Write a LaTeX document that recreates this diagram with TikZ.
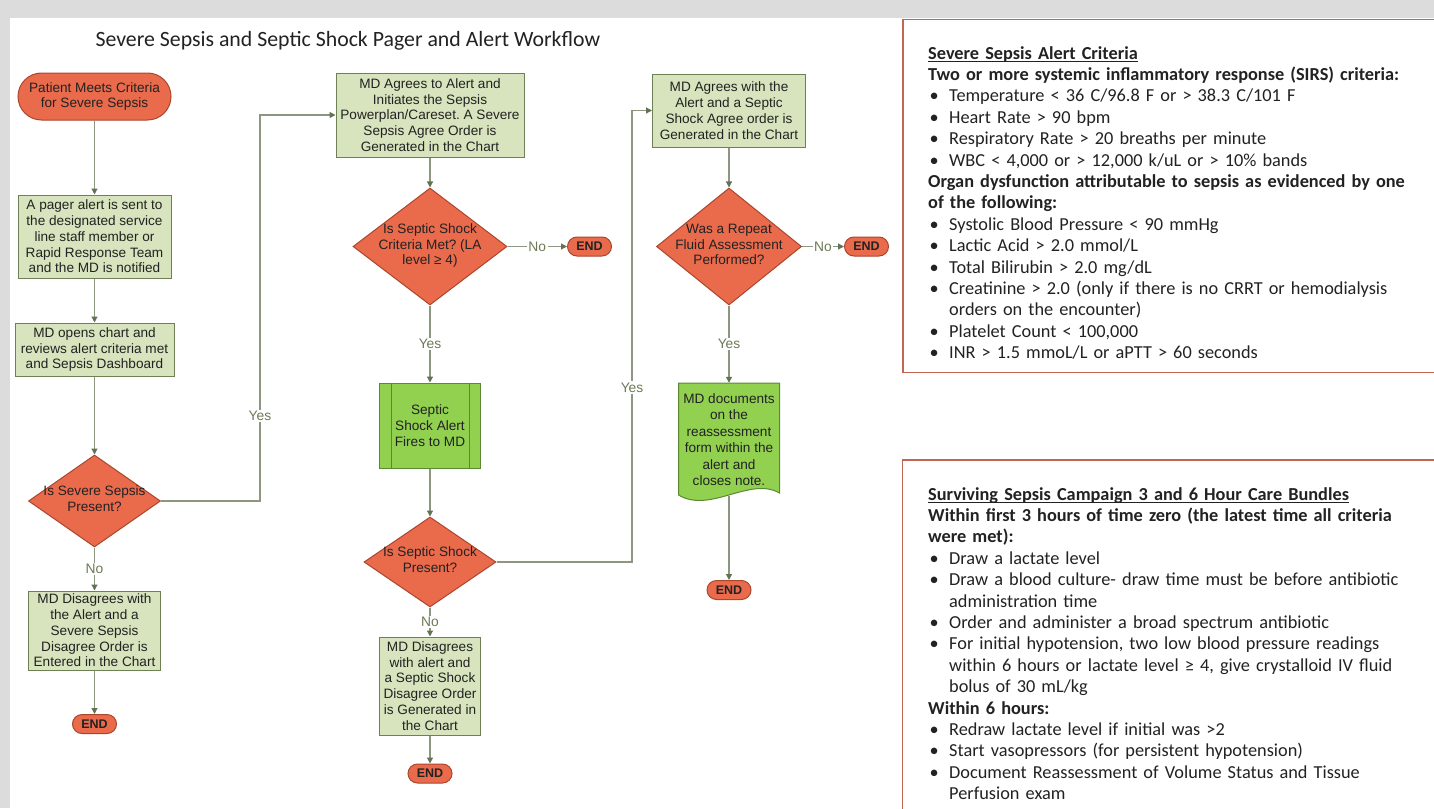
\documentclass[tikz,border=0pt]{standalone}
\usepackage{fontspec}
\setmainfont{Liberation Sans}
\newfontfamily\boxfont{Carlito}
\usetikzlibrary{shapes.geometric,arrows.meta}

\definecolor{bggray}{RGB}{220,220,220}
\definecolor{sepred}{RGB}{234,106,76}
\definecolor{sepredline}{RGB}{170,70,46}
\definecolor{paleolive}{RGB}{215,228,189}
\definecolor{oliveline}{RGB}{112,128,86}
\definecolor{limegreen}{RGB}{146,208,80}
\definecolor{limeline}{RGB}{92,136,52}
\definecolor{flowline}{RGB}{140,150,128}
\definecolor{flowtip}{RGB}{100,114,84}
\definecolor{flowlabel}{RGB}{108,122,84}
\definecolor{panelline}{RGB}{190,104,84}
\definecolor{inktext}{RGB}{34,34,34}

% underline drawn close under the baseline
\newcommand{\ulbar}[1]{\leavevmode\setbox0\hbox{#1}\rlap{\rule[-2.6pt]{\wd0}{1.1pt}}\box0}
% one bullet line with hanging indent
\newcommand{\bitem}[1]{\par\hangindent=21pt\hangafter=1\noindent\hbox to 21pt{\hspace{1.5pt}\textbullet\hfil}#1}
% text of a decision, set without widening the diamond
\newcommand{\dlines}[1]{\smash{\makebox[0pt]{\raisebox{-3pt}{\begin{tabular}{@{}c@{}}#1\end{tabular}}}}}

\begin{document}
\frenchspacing
\begin{tikzpicture}[x=1pt,y=-1pt,
    every node/.style={font=\fontsize{13.6}{15.8}\selectfont, text=inktext},
    terminal/.style={draw=sepredline, fill=sepred, line width=1pt, rounded corners=23.5pt,
        minimum width=153pt, minimum height=47pt, align=center, inner sep=0pt},
    stopper/.style={draw=sepredline, fill=sepred, line width=1pt, rounded corners=9.5pt,
        minimum width=44pt, minimum height=19pt, inner sep=0pt,
        font=\bfseries\fontsize{12.5}{12.5}\selectfont},
    stepbox/.style={draw=oliveline, fill=paleolive, line width=1pt, align=center, inner sep=0pt},
    alertbox/.style={draw=limeline, fill=limegreen, line width=1pt, align=center, inner sep=0pt},
    decision/.style={diamond, draw=sepredline, fill=sepred, line width=1pt, inner sep=0pt},
    flow/.style={draw=flowline, line width=1.2pt, -{Triangle[length=6pt,width=6pt,color=flowtip]}},
    lbl/.style={fill=white, text=flowlabel, inner sep=1.5pt, font=\fontsize{13.8}{13.8}\selectfont},
    panel/.style={draw=panelline, line width=1.5pt},
    paneltext/.style={anchor=north west, inner sep=0pt, text width=560pt,
        font=\boxfont\fontsize{18.3}{21.4}\selectfont}]

    % Page and frame
    \useasboundingbox (0,0) rectangle (1434,808);
    \fill[bggray] (0,0) rectangle (1434,808);
    \fill[white] (10,18) rectangle (1434,808);

    \node[anchor=base west, font=\boxfont\fontsize{21.8}{25}\selectfont] (title) at (92,47)
        {Severe Sepsis and Septic Shock Pager and Alert Workflow};

    % Left column
    \node[terminal] (start) at (94.5,96.5) {Patient Meets Criteria\\for Severe Sepsis};
    \node[stepbox, minimum width=153pt, minimum height=83pt] (pager) at (94.5,236.5)
        {A pager alert is sent to\\the designated service\\line staff member or\\Rapid Response Team\\and the MD is notified};
    \node[stepbox, minimum width=159pt, minimum height=53pt] (review) at (94.5,349.5)
        {MD opens chart and\\reviews alert criteria met\\and Sepsis Dashboard};
    \node[decision, minimum width=132pt, minimum height=92pt] (sepsisq) at (94.5,501)
        {\dlines{Is Severe Sepsis\\Present?}};
    \node[stepbox, minimum width=132pt, minimum height=79pt] (sepsisno) at (94.5,630.5)
        {MD Disagrees with\\the Alert and a\\Severe Sepsis\\Disagree Order is\\Entered in the Chart};

    % Middle column
    \node[stepbox, minimum width=188pt, minimum height=84pt] (sepsisyes) at (430,115)
        {MD Agrees to Alert and\\Initiates the Sepsis\\Powerplan/Careset. A Severe\\Sepsis Agree Order is\\Generated in the Chart};
    \node[decision, minimum width=154pt, minimum height=117pt] (criteriaq) at (430,246.5)
        {\dlines{Is Septic Shock\\Criteria Met? (LA\\level ≥ 4)}};
    \node[alertbox, minimum width=101pt, minimum height=85pt] (shockalert) at (430,425.5)
        {Septic\\Shock Alert\\Fires to MD};
    \draw[limeline, line width=1pt] ([xshift=12pt]shockalert.north west) -- ([xshift=12pt]shockalert.south west);
    \draw[limeline, line width=1pt] ([xshift=-12pt]shockalert.north east) -- ([xshift=-12pt]shockalert.south east);
    \node[decision, minimum width=132pt, minimum height=90pt] (shockq) at (430,562)
        {\dlines{Is Septic Shock\\Present?}};
    \node[stepbox, minimum width=101pt, minimum height=98pt] (shockno) at (430,686)
        {MD Disagrees\\with alert and\\a Septic Shock\\Disagree Order\\is Generated in\\the Chart};

    % Right column
    \node[stepbox, minimum width=153pt, minimum height=73pt] (shockyes) at (729,110.5)
        {MD Agrees with the\\Alert and a Septic\\Shock Agree order is\\Generated in the Chart};
    \node[decision, minimum width=145pt, minimum height=117pt] (fluidq) at (729,246.5)
        {\dlines{Was a Repeat\\Fluid Assessment\\Performed?}};
    \filldraw[draw=limeline, fill=limegreen, line width=1pt]
        (678.5,383) -- (779.5,383) -- (779.5,493)
        .. controls (750,476) and (710,514) .. (678.5,495) -- cycle;
    \node[align=center, inner sep=0pt, minimum width=101pt, minimum height=113pt,
        font=\fontsize{13.6}{16.5}\selectfont] (reassess) at (729,439.5)
        {MD documents\\on the\\reassessment\\form within the\\alert and\\closes note.};

    % End points
    \foreach \name/\x/\y in {endA/94.5/724, endB/589.5/246.5, endC/430/773.5,
                             endD/866.5/246.5, endE/729/590} {
            \node[stopper] (\name) at (\x,\y) {END};
        }

    % Connectors
    \foreach \a/\b in {start/pager, pager/review, review/sepsisq, sepsisno/endA,
                       sepsisyes/criteriaq, shockalert/shockq, shockno/endC,
                       shockyes/fluidq, reassess/endE} {
            \draw[flow] (\a) -- (\b);
        }
    \foreach \a/\b/\t in {sepsisq/sepsisno/No, criteriaq/shockalert/Yes, criteriaq/endB/No,
                          shockq/shockno/No, fluidq/reassess/Yes, fluidq/endD/No} {
            \draw[flow] (\a) -- node[lbl] {\t} (\b);
        }
    \coordinate (bendA) at (260,501);
    \coordinate (bendB) at (632,562);
    \draw[flow] (sepsisq.east) -- (bendA) |- node[lbl, pos=0.11] {Yes} (sepsisyes.west);
    \draw[flow] (shockq.east) -- (bendB) |- node[lbl, pos=0.193] {Yes} (shockyes.west);

    % Criteria panel
    \draw[panel] (903,19.5) rectangle (1440,372.5);
    \node[paneltext] (criteria) at (928,46) {%
        \noindent\textbf{\ulbar{Severe Sepsis Alert Criteria}}\par
        \noindent\textbf{Two or more systemic inflammatory response (SIRS) criteria:}
        \bitem{Temperature < 36 C/96.8 F or > 38.3 C/101 F}
        \bitem{Heart Rate > 90 bpm}
        \bitem{Respiratory Rate > 20 breaths per minute}
        \bitem{WBC < 4,000 or > 12,000 k/uL or > 10\% bands}
        \par\noindent\textbf{Organ dysfunction attributable to sepsis as evidenced by one\newline of the following:}
        \bitem{Systolic Blood Pressure < 90 mmHg}
        \bitem{Lactic Acid > 2.0 mmol/L}
        \bitem{Total Bilirubin > 2.0 mg/dL}
        \bitem{Creatinine > 2.0 (only if there is no CRRT or hemodialysis\newline orders on the encounter)}
        \bitem{Platelet Count < 100,000}
        \bitem{INR > 1.5 mmoL/L or aPTT > 60 seconds}\par};

    % Bundles panel
    \draw[panel] (902.5,460) rectangle (1440,815);
    \node[paneltext] (bundles) at (928,487) {%
        \noindent\textbf{\ulbar{Surviving Sepsis Campaign 3 and 6 Hour Care Bundles}}\par
        \noindent\textbf{Within first 3 hours of time zero (the latest time all criteria\newline were met):}
        \bitem{Draw a lactate level}
        \bitem{Draw a blood culture- draw time must be before antibiotic\newline administration time}
        \bitem{Order and administer a broad spectrum antibiotic}
        \bitem{For initial hypotension, two low blood pressure readings\newline within 6 hours or lactate level ≥ 4, give crystalloid IV fluid\newline bolus of 30 mL/kg}
        \par\noindent\textbf{Within 6 hours:}
        \bitem{Redraw lactate level if initial was >2}
        \bitem{Start vasopressors (for persistent hypotension)}
        \bitem{Document Reassessment of Volume Status and Tissue\newline Perfusion exam}\par};
\end{tikzpicture}
\end{document}
